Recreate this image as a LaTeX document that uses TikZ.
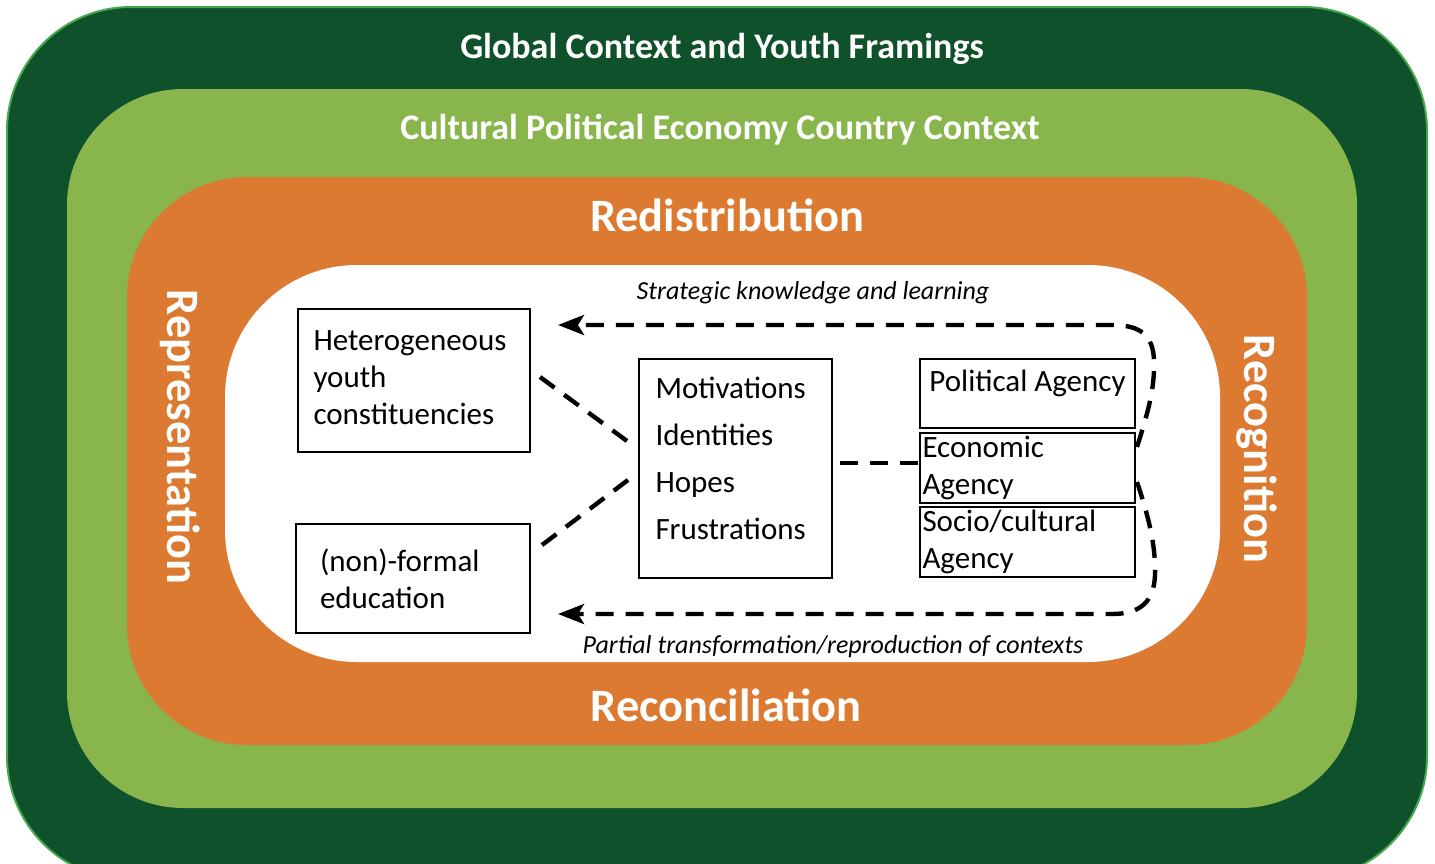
\documentclass[tikz,border=0pt]{standalone}
\usepackage{fontspec}
\setmainfont{Carlito}
\usetikzlibrary{arrows.meta}
\definecolor{globalgreen}{HTML}{0E512B}
\definecolor{globaledge}{HTML}{46A84D}
\definecolor{countrygreen}{HTML}{88B54C}
\definecolor{justiceorange}{HTML}{DB7A30}
\tikzset{
  ringtitle/.style={text=white, font=\bfseries\fontsize{18}{21}\selectfont, inner sep=0pt},
  justicetitle/.style={text=white, font=\bfseries\fontsize{23.2}{26}\selectfont, inner sep=0pt},
  flowlabel/.style={font=\itshape\fontsize{13}{15}\selectfont, inner sep=0pt},
  box/.style={draw, line width=1pt, align=left, font=\fontsize{15.5}{18.5}\selectfont},
  link/.style={line width=2.2pt, dash pattern=on 9pt off 6pt},
  feedback/.style={link, -{Stealth[length=13pt,width=10pt,inset=3pt]}}
}
\begin{document}
\begin{tikzpicture}[x=0.5pt, y=-0.5pt]
		\useasboundingbox (0,0) rectangle (1435,863);
		\fill[globalgreen, draw=globaledge, line width=1pt, rounded corners=62pt] (7,7) rectangle (1427,880);
		\fill[countrygreen, rounded corners=58pt] (67,89) rectangle (1357,808);
		\fill[justiceorange, rounded corners=60pt] (127,177) rectangle (1307,745);
		\fill[white, rounded corners=66pt] (225,265) rectangle (1220,662);
		
		\node[ringtitle] (global) at (722,49) {Global Context and Youth Framings};
		\node[ringtitle] (country) at (720,130) {Cultural Political Economy Country Context};
		\node[justicetitle] (redis) at (727,215) {Redistribution};
		\node[justicetitle] (recon) at (726,705) {Reconciliation};
		\node[justicetitle, rotate=-90] (repres) at (180,437) {Representation};
		\node[justicetitle, rotate=-90] (recog) at (1257,449) {Recognition};
		\node[flowlabel] (strat) at (813,293) {Strategic knowledge and learning};
		\node[flowlabel] (partial) at (833,647) {Partial transformation/reproduction of contexts};
		
		\node[box, minimum width=115.5pt, minimum height=71.5pt, text width=100pt, inner xsep=8pt] (youth) at (413.5,380.5)
			{Heterogeneous\\youth\\constituencies\vspace{3pt}};
		\node[box, minimum width=117pt, minimum height=54.5pt, text width=93pt, inner xsep=12pt] (edu) at (413,578.5)
			{(non)-formal\\education};
		\node[box, minimum width=96.5pt, minimum height=109.5pt, text width=80pt, inner xsep=8pt,
			font=\fontsize{15.5}{23.5}\selectfont] (motiv) at (735.5,468.5)
			{Motivations\\Identities\\Hopes\\Frustrations\vspace{10pt}};
		\node[box, minimum width=107.5pt, minimum height=34.5pt, inner sep=0pt] (polit) at (1027.5,393.5) {};
		\node[anchor=north west, inner sep=0pt, font=\fontsize{15.5}{18.5}\selectfont] (politxt) at ([xshift=5pt, yshift=-6pt]polit.north west) {Political Agency};
		\node[box, minimum width=107.5pt, minimum height=35pt, text width=105pt, inner xsep=1pt, inner ysep=0pt] (econ) at (1027.5,468)
			{Economic\\Agency};
		\node[box, minimum width=107.5pt, minimum height=35pt, text width=105pt, inner xsep=1pt, inner ysep=0pt] (socio) at (1027.5,542)
			{Socio/cultural\\Agency};
		
		\coordinate (youthend) at (540,377);
		\coordinate (eduend) at (542,545);
		\coordinate (motivup) at (627,441);
		\coordinate (motivlow) at (628,480);
		\coordinate (motivright) at (840,463);
		\coordinate (agencyleft) at (918,463);
		\coordinate (topstart) at (1137,447);
		\coordinate (topend) at (558,325);
		\coordinate (lowstart) at (1137,482);
		\coordinate (lowend) at (558,614);
		
		\draw[link] (youthend) -- (motivup);
		\draw[link] (eduend) -- (motivlow);
		\draw[link] (motivright) -- (agencyleft);
		\draw[feedback] (topstart) .. controls (1147,415) and (1155,390) .. (1154,360)
			.. controls (1153,335) and (1140,325) .. (1112,325) -- (topend);
		\draw[feedback] (lowstart) .. controls (1148,515) and (1156,545) .. (1155,575)
			.. controls (1154,602) and (1140,614) .. (1112,614) -- (lowend);
	\end{tikzpicture}
\end{document}
